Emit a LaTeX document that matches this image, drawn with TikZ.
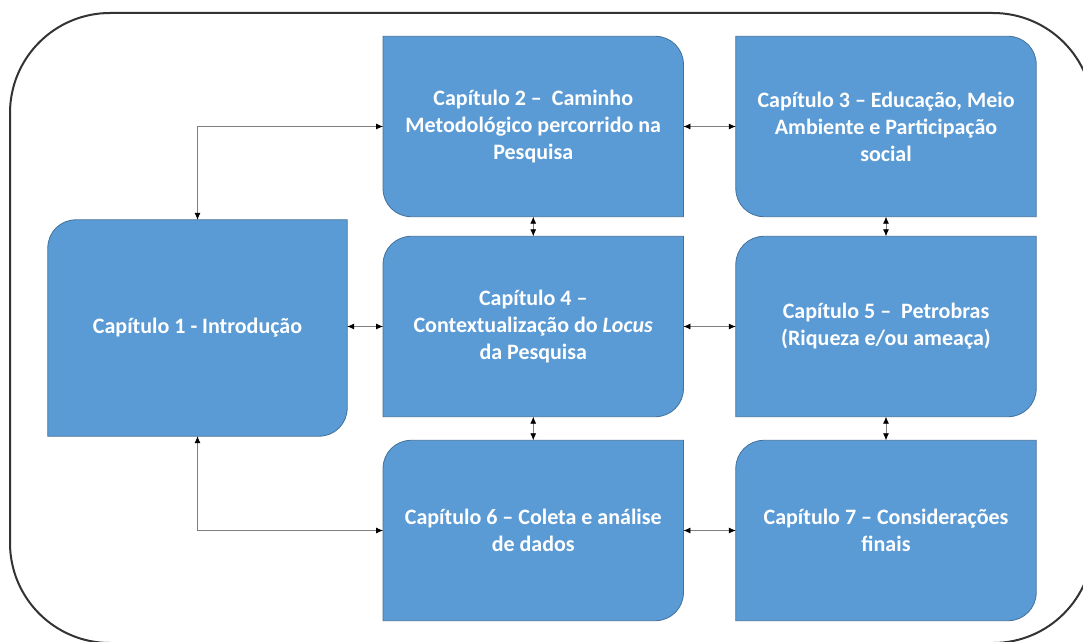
\documentclass[tikz,border=0pt]{standalone}
\usepackage{fontspec}
\setmainfont{Carlito}
\usetikzlibrary{arrows.meta,backgrounds}
\definecolor{boxblue}{HTML}{5B9BD5}
\definecolor{boxedge}{HTML}{41719C}
\definecolor{framegray}{HTML}{333333}
\definecolor{conngray}{HTML}{7F7F7F}
\tikzset{
  chap/.style={rectangle, inner sep=0pt, minimum width=300pt, minimum height=180pt,
    text=white, font=\bfseries\fontsize{22}{27}\selectfont, align=center},
  conn/.style={draw=conngray, line width=0.8pt,
    {Latex[length=7pt,width=6pt,color=black]}-{Latex[length=7pt,width=6pt,color=black]}},
  shapefill/.style={fill=boxblue, draw=boxedge, line width=0.8pt},
  outerframe/.style={draw=framegray, line width=2pt, rounded corners=100pt},
}
\newcommand\roundNWSE[2][28pt]{\path[shapefill] (#2.south west) -- ([yshift=-#1]#2.north west) arc[start angle=180,end angle=90,radius=#1] -- (#2.north east) -- ([yshift=#1]#2.south east) arc[start angle=0,end angle=-90,radius=#1] -- cycle;}
\newcommand\roundNESW[2][28pt]{\path[shapefill] (#2.north west) -- ([xshift=-#1]#2.north east) arc[start angle=90,end angle=0,radius=#1] -- (#2.south east) -- ([xshift=#1]#2.south west) arc[start angle=270,end angle=180,radius=#1] -- cycle;}
\begin{document}
\begin{tikzpicture}[x=1pt,y=1pt]
\useasboundingbox (0,0) rectangle (1083,641);
\node[chap, minimum width=299pt, minimum height=216pt] (b1) at (197.5,313) {Capítulo 1 - Introdução};
\node[chap] (b2) at (533.25,514.5) {Capítulo 2 –\ \ Caminho\\Metodológico percorrido na\\Pesquisa};
\node[chap] (b3) at (886,514.5) {Capítulo 3 – Educação, Meio\\Ambiente e Participação\\social};
\node[chap] (b4) at (533.25,314.5) {Capítulo 4 –\\Contextualização do \textit{Locus}\\da Pesquisa};
\node[chap] (b5) at (886,314.5) {Capítulo 5 –\ \ Petrobras\\(Riqueza e/ou ameaça)};
\node[chap] (b6) at (533.25,110.5) {Capítulo 6 – Coleta e análise\\de dados};
\node[chap] (b7) at (886,110.5) {Capítulo 7 – Considerações\\finais};
\begin{pgfonlayer}{background}
  \draw[outerframe] (10,-2) rectangle (1093,628);
  \roundNWSE{b1}
  \roundNESW{b2}
  \roundNESW{b3}
  \roundNWSE{b4}
  \roundNWSE{b5}
  \roundNWSE{b6}
  \roundNWSE{b7}
\end{pgfonlayer}
\draw[conn] (b1.north) |- (b2.west);
\draw[conn] (b1.south) |- (b6.west);
\draw[conn] (b1.east |- b4.west) -- (b4.west);
\draw[conn] (b2.east) -- (b3.west);
\draw[conn] (b2.south) -- (b4.north);
\draw[conn] (b3.south) -- (b5.north);
\draw[conn] (b4.east) -- (b5.west);
\draw[conn] (b4.south) -- (b6.north);
\draw[conn] (b5.south) -- (b7.north);
\draw[conn] (b6.east) -- (b7.west);
\end{tikzpicture}
\end{document}
